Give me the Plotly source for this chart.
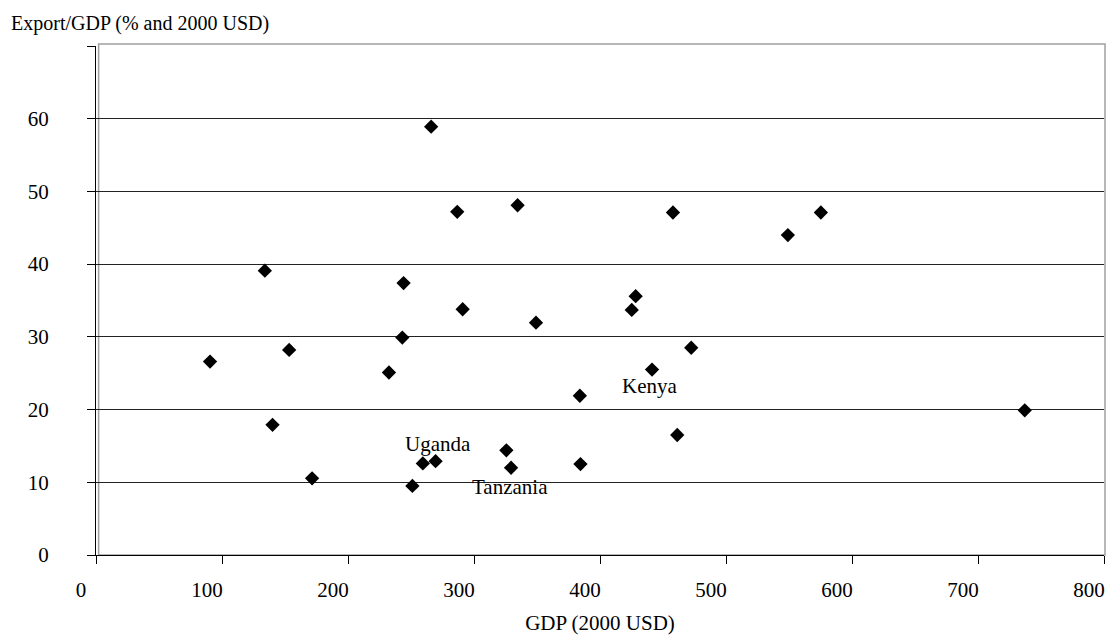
import plotly.graph_objects as go

# GDP (2000 USD) and Export/GDP (%) per country
gdp = [90.5, 134.0, 140.1, 153.3, 171.5, 232.5, 243.1, 244.1, 251.1, 259.4,
       269.5, 266.0, 286.7, 291.0, 325.7, 329.4, 334.6, 349.2, 384.0, 384.5,
       425.2, 428.3, 441.3, 457.9, 461.3, 472.4, 549.1, 575.3, 737.1]
export_share = [26.6, 39.1, 17.9, 28.2, 10.55, 25.1, 29.9, 37.4, 9.5, 12.6,
                12.9, 58.9, 47.2, 33.8, 14.4, 12.0, 48.1, 31.95, 21.9, 12.5,
                33.7, 35.6, 25.5, 47.1, 16.5, 28.5, 44.0, 47.1, 19.9]

label_names = ["Uganda", "Kenya", "Tanzania"]
label_x = [271.8, 438.9, 328.3]
label_y = [15.27, 23.2, 9.4]

x_ticks = [0, 100, 200, 300, 400, 500, 600, 700, 800]
y_ticks = [0, 10, 20, 30, 40, 50, 60, 70]
y_ticktext = ["0", "10", "20", "30", "40", "50", "60", ""]

FONT = "Liberation Serif"

fig = go.Figure()
fig.add_trace(go.Scatter(
    x=gdp, y=export_share, mode="markers",
    marker=dict(symbol="diamond", size=11, color="black", line=dict(width=0)),
    showlegend=False, hoverinfo="x+y",
))

for name, lx, ly in zip(label_names, label_x, label_y):
    fig.add_annotation(x=lx, y=ly, xref="x", yref="y", text=name, showarrow=False,
                       font=dict(family=FONT, size=21, color="black"),
                       xanchor="center", yanchor="middle")

fig.add_annotation(xref="paper", yref="paper", x=-0.086, y=1.0446,
                   text="Export/GDP (% and 2000 USD)", showarrow=False,
                   xanchor="left", yanchor="middle",
                   font=dict(family=FONT, size=20, color="black"))

# gray plot-area border (Excel style)
fig.add_shape(type="rect", xref="paper", yref="paper",
              x0=0.0026, x1=1.001, y0=0, y1=1.0039,
              line=dict(color="#a0a0a0", width=1.5), layer="below")

fig.update_layout(
    width=1108, height=639,
    margin=dict(l=96, r=4, t=46, b=84),
    paper_bgcolor="white", plot_bgcolor="white",
    font=dict(family=FONT, size=21, color="black"),
    xaxis=dict(
        range=[0, 800], tickvals=x_ticks, ticks="outside", ticklen=8,
        tickcolor="black", showline=True, linecolor="black", linewidth=1,
        showgrid=False, zeroline=False, ticklabelshift=-15,
        ticklabelstandoff=8,
        tickfont=dict(family=FONT, size=21, color="black"),
        title=dict(text="GDP (2000 USD)", standoff=14,
                   font=dict(family=FONT, size=21, color="black")),
    ),
    yaxis=dict(
        range=[0, 70], tickvals=y_ticks, ticktext=y_ticktext, ticks="outside",
        ticklen=8, tickcolor="black", showline=True, linecolor="black",
        linewidth=1, showgrid=True, gridcolor="#222222", gridwidth=1,
        zeroline=False, ticklabelstandoff=34,
        tickfont=dict(family=FONT, size=21, color="black"),
    ),
)

fig.write_html(
    "out.html",
    config={"displayModeBar": False},
    post_script="document.body.style.margin='0';document.body.style.overflow='hidden';",
)
